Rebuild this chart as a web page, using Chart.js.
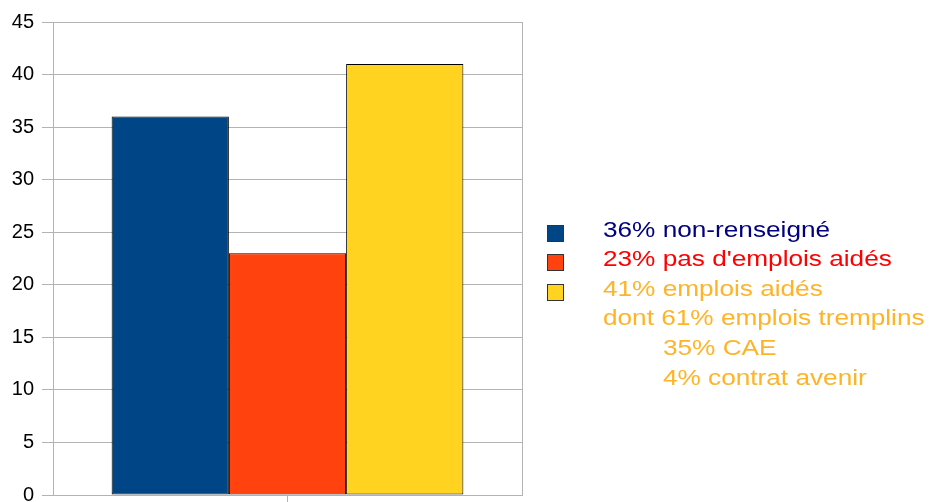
<!DOCTYPE html>
<html>
<head>
<meta charset="utf-8">
<script src="https://cdn.jsdelivr.net/npm/chart.js@4"></script>
<style>
  html, body { margin: 0; padding: 0; background: #fff; overflow: hidden; }
  #wrap { position: relative; width: 932px; height: 502px; overflow: hidden; }
  #chart { position: absolute; left: 0; top: 0; }
  #legend {
    position: absolute; left: 547px; top: 214.6px;
    font-family: "Liberation Sans", Arial, sans-serif; font-size: 22px; line-height: 29.6px;
  }
  .row { position: relative; height: 29.6px; white-space: nowrap; }
  .box { position: absolute; left: 0; top: 10px; width: 15px; height: 15px; border: 1px solid #333; }
  .txt { position: absolute; left: 56px; top: 0; transform: scaleX(1.19); transform-origin: left center; }
  .indent { left: 116px; }
</style>
</head>
<body>
<div id="wrap">
  <canvas id="chart" width="932" height="540"></canvas>
  <div id="legend"></div>
</div>
<script>
// Data
const categories = [''];
const seriesLabels = ['36% non-renseigné', "23% pas d'emplois aidés", '41% emplois aidés'];
const seriesValues = [36, 23, 41];
const detailLines = ['dont 61% emplois tremplins', '35% CAE', '4% contrat avenir'];
const yTicks = [0, 5, 10, 15, 20, 25, 30, 35, 40, 45];

const barColors = ['#004586', '#ff420e', '#ffd320'];
const textColors = ['#000080', '#ff0000', '#ffb428'];
const gridColor = '#b3b3b3';

// Draws the right edge of the plot area
const frameRight = {
    id: 'frameRight',
    afterDraw(chart) {
        const { ctx, chartArea } = chart;
        ctx.save();
        ctx.strokeStyle = gridColor;
        ctx.lineWidth = 1;
        ctx.beginPath();
        ctx.moveTo(Math.round(chartArea.right) + 0.5, chartArea.top);
        ctx.lineTo(Math.round(chartArea.right) + 0.5, chartArea.bottom);
        ctx.stroke();
        ctx.restore();
    }
};

const ctx = document.getElementById('chart').getContext('2d');
const chart = new Chart(ctx, {
    type: 'bar',
    data: {
        labels: categories,
        datasets: seriesLabels.map((label, i) => ({
            label: label,
            data: [seriesValues[i]],
            backgroundColor: barColors[i],
            borderColor: '#000',
            borderWidth: 1,
            borderSkipped: false,
            categoryPercentage: 0.75,
            barPercentage: 1
        }))
    },
    options: {
        responsive: false,
        animation: false,
        layout: { padding: { top: 22, right: 410, left: 0, bottom: 0 } },
        plugins: {
            legend: { display: false },
            tooltip: { enabled: false }
        },
        scales: {
            x: {
                grid: { offset: false, drawOnChartArea: false, color: gridColor, tickLength: 10 },
                border: { display: true, color: gridColor },
                ticks: { display: false },
                afterFit: s => { s.height = 45; }
            },
            y: {
                min: 0,
                max: 45,
                afterBuildTicks: s => { s.ticks = yTicks.map(v => ({ value: v })); },
                grid: { color: gridColor, tickLength: 11 },
                border: { display: true, color: gridColor },
                ticks: {
                    color: '#000',
                    padding: 8,
                    font: { family: '"Liberation Sans", Arial, sans-serif', size: 20 }
                },
                afterFit: s => { s.width = 53; }
            }
        }
    },
    plugins: [frameRight]
});

// Build the legend from the datasets
function renderLegend() {
    const legend = document.getElementById('legend');
    legend.innerHTML = '';
    chart.data.datasets.forEach((ds, i) => {
        const row = document.createElement('div');
        row.className = 'row';
        row.innerHTML = `<span class="box" style="background:${ds.backgroundColor}"></span>` +
            `<span class="txt" style="color:${textColors[i]}">${ds.label}</span>`;
        legend.appendChild(row);
    });
    detailLines.forEach((line, i) => {
        const row = document.createElement('div');
        row.className = 'row';
        row.innerHTML = `<span class="txt${i > 0 ? ' indent' : ''}" style="color:${textColors[2]}">${line}</span>`;
        legend.appendChild(row);
    });
}

renderLegend();
</script>
</body>
</html>
